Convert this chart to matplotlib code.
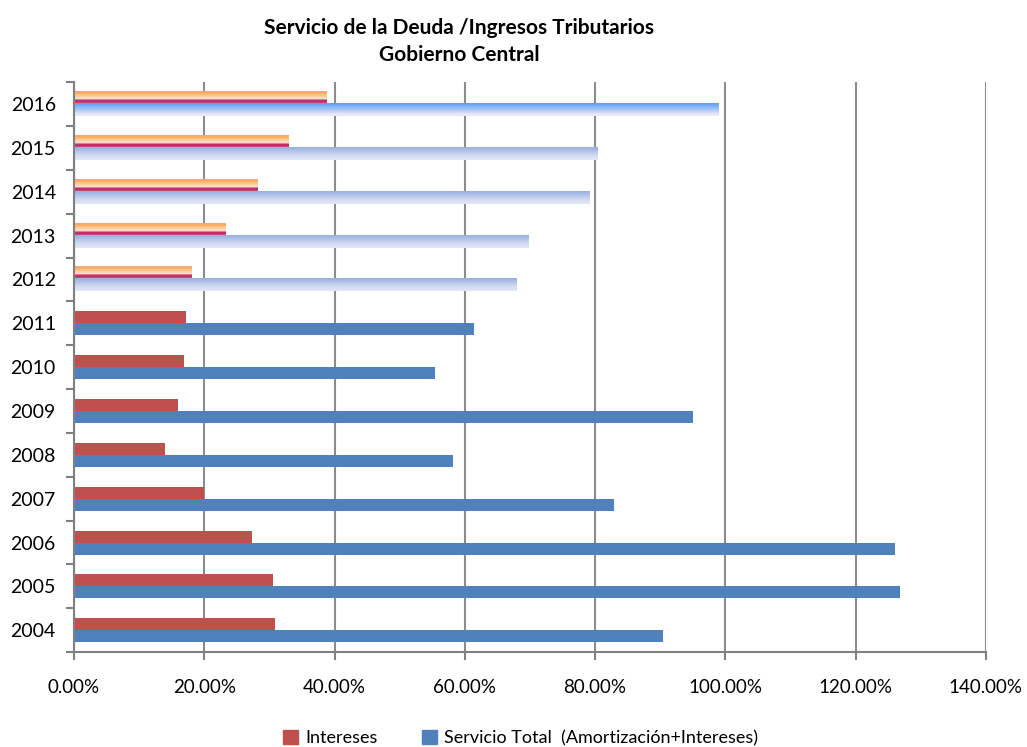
import numpy as np
import matplotlib.pyplot as plt
from matplotlib.colors import LinearSegmentedColormap
from matplotlib.patches import Patch

plt.rcParams['font.family'] = ['Lato', 'DejaVu Sans']

years = ['2004', '2005', '2006', '2007', '2008', '2009', '2010',
         '2011', '2012', '2013', '2014', '2015', '2016']
intereses = [30.9, 30.5, 27.3, 20.0, 14.0, 16.0, 16.9,
             17.2, 18.0, 23.2, 28.1, 33.0, 38.7]
servicio_total = [90.4, 126.8, 126.0, 82.9, 58.2, 95.0, 55.4,
                  61.4, 67.9, 69.7, 79.2, 80.4, 98.9]
# years from this index on are projections (gradient fill)
proj_start = 8

red = '#c0504d'
blue = '#4f81bd'

cm_int = LinearSegmentedColormap.from_list('int', [
    (0.0, '#f4a0a0'), (0.12, '#f8ae55'), (0.45, '#fcd2b0'),
    (0.62, '#fde6d6'), (0.68, '#c8306c'), (0.85, '#b8306a'), (1.0, '#e8906a')])
cm_tot_last = LinearSegmentedColormap.from_list('tot16', [
    (0.0, '#5a9ef8'), (0.6, '#b8d0f4'), (0.85, '#e2e8f8'), (1.0, '#f8e6f4')])
cm_tot = LinearSegmentedColormap.from_list('tot', [
    (0.0, '#96aee0'), (0.6, '#cdd8f0'), (1.0, '#e4e8f6')])
grad = np.linspace(0, 1, 64).reshape(-1, 1)

fig = plt.figure(figsize=(10.27, 7.47), dpi=100)
ax = fig.add_axes([0.072, 0.127, 0.888, 0.763])

h = 0.274
y = np.arange(len(years))
for i in range(len(years)):
    if i < proj_start:
        ax.barh(y[i] + h / 2, intereses[i], height=h, color=red, zorder=2)
        ax.barh(y[i] - h / 2, servicio_total[i], height=h, color=blue, zorder=2)
    else:
        ax.imshow(grad, cmap=cm_int, aspect='auto', zorder=2,
                  extent=[0, intereses[i], y[i], y[i] + h])
        cm = cm_tot_last if i == len(years) - 1 else cm_tot
        ax.imshow(grad, cmap=cm, aspect='auto', zorder=2,
                  extent=[0, servicio_total[i], y[i] - h, y[i]])

ax.set_xlim(0, 140)
ax.set_ylim(-0.5, len(years) - 0.5)
ax.set_xticks(np.arange(0, 141, 20))
ax.set_xticklabels(['%.2f%%' % v for v in np.arange(0, 141, 20)], fontsize=13.5)
ax.set_yticks(np.arange(-0.5, len(years), 1))
ax.set_yticklabels([])
ax.set_yticks(y, minor=True)
ax.set_yticklabels(years, minor=True, fontsize=14)
ax.tick_params(axis='y', which='minor', length=0, pad=13)
ax.tick_params(axis='y', which='major', length=6, width=1.5, color='#808080')
ax.tick_params(axis='x', length=6, width=1.5, color='#808080', pad=13)

ax.grid(axis='x', color='#8c8c8c', linewidth=1.5)
ax.set_axisbelow(True)
for s in ['top', 'right']:
    ax.spines[s].set_visible(False)
for s in ['left', 'bottom']:
    ax.spines[s].set_color('#808080')
    ax.spines[s].set_linewidth(1.5)

fig.text(0.447, 0.963, 'Servicio de la Deuda /Ingresos Tributarios',
         ha='center', va='center', fontsize=15, fontweight='bold')
fig.text(0.447, 0.927, 'Gobierno Central',
         ha='center', va='center', fontsize=15, fontweight='bold')

handles = [Patch(color=red, label='Intereses'),
           Patch(color=blue, label='Servicio Total  (Amortización+Intereses)')]
fig.legend(handles=handles, loc='center', bbox_to_anchor=(0.507, 0.012),
           ncol=2, frameon=False, fontsize=13, handlelength=0.8,
           handleheight=0.8, columnspacing=2.5, handletextpad=0.4)

fig.savefig('out.png', dpi=100)
